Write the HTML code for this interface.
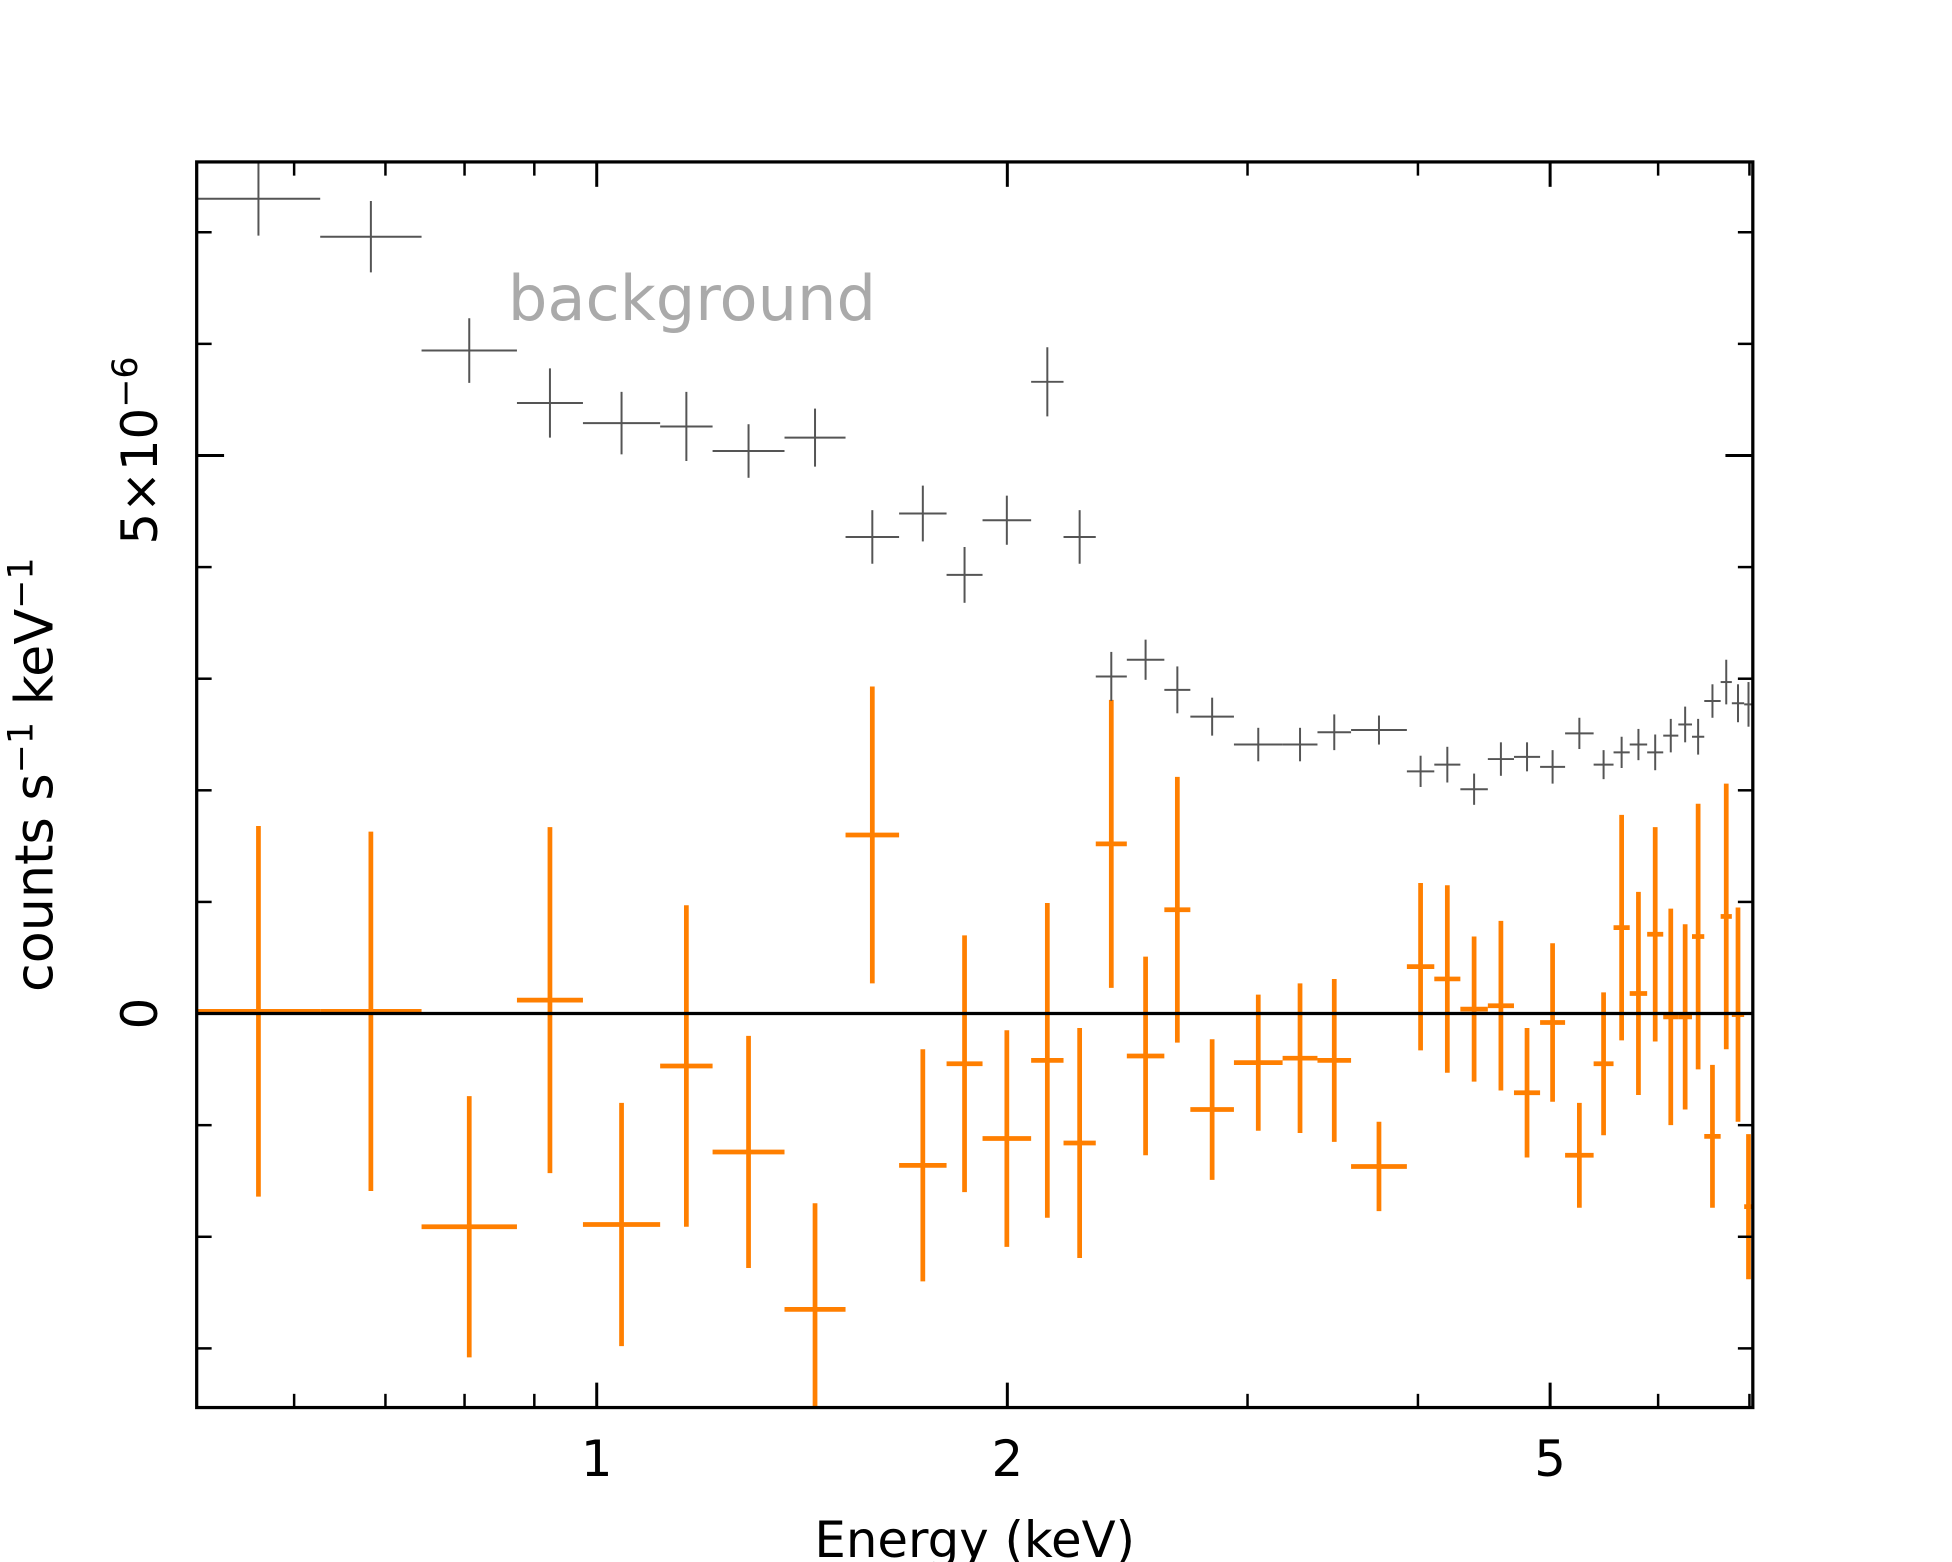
<!DOCTYPE html>
<html><head><meta charset="utf-8"><style>
html,body{margin:0;padding:0;background:#fff;}
svg{display:block;}
text{font-family:"DejaVu Sans","Liberation Sans",sans-serif;}
</style></head><body>
<svg id="chart" width="1952" height="1562" viewBox="0 0 1568 1254" preserveAspectRatio="none" xmlns="http://www.w3.org/2000/svg">
<g id="marks"></g>
<rect x="158" y="130" width="1250" height="1000" fill="none" stroke="#000" stroke-width="2.6"/>
<g id="ticks"></g>
<text x="408" y="257" font-size="50" fill="#aaaaaa">background</text>
<text transform="translate(42,622) rotate(-90)" text-anchor="middle" font-size="42" fill="#000">counts s<tspan dy="-16" font-size="28">−1</tspan><tspan dy="16"> keV</tspan><tspan dy="-16" font-size="28">−1</tspan></text>
<text x="783" y="1250" text-anchor="middle" font-size="40" fill="#000">Energy (keV)</text>
</svg>
<script>
const binEdges=[0.509,0.627,0.744,0.874,0.977,1.113,1.216,1.373,1.522,1.666,1.805,1.918,2.082,2.199,2.322,2.447,2.607,2.724,2.932,3.183,3.376,3.573,3.926,4.112,4.297,4.501,4.704,4.916,5.128,5.381,5.565,5.719,5.890,6.052,6.208,6.353,6.486,6.668,6.795,6.938,7.040];
const bgValues=[7.30,6.96,5.94,5.47,5.29,5.26,5.04,5.16,4.27,4.48,3.93,4.42,5.66,4.27,3.02,3.17,2.90,2.66,2.41,2.41,2.52,2.54,2.17,2.23,2.01,2.28,2.30,2.21,2.51,2.23,2.34,2.41,2.34,2.49,2.59,2.48,2.80,2.97,2.78,2.77];
const bgErrors=[0.33,0.32,0.29,0.31,0.28,0.31,0.24,0.26,0.24,0.25,0.25,0.22,0.31,0.24,0.22,0.18,0.21,0.17,0.15,0.15,0.16,0.13,0.14,0.16,0.14,0.15,0.13,0.15,0.14,0.13,0.14,0.14,0.16,0.15,0.16,0.16,0.15,0.20,0.17,0.20];
const resValues=[0.02,0.02,-1.91,0.12,-1.89,-0.47,-1.24,-2.65,1.60,-1.36,-0.45,-1.12,-0.42,-1.16,1.52,-0.38,0.93,-0.86,-0.44,-0.40,-0.42,-1.37,0.42,0.31,0.04,0.07,-0.71,-0.08,-1.27,-0.45,0.77,0.18,0.71,-0.03,-0.03,0.69,-1.10,0.87,-0.01,-1.73];
const resErrors=[1.66,1.61,1.17,1.55,1.09,1.44,1.04,0.95,1.33,1.04,1.15,0.97,1.41,1.03,1.29,0.89,1.19,0.63,0.61,0.67,0.73,0.40,0.75,0.84,0.65,0.76,0.58,0.71,0.47,0.64,1.01,0.91,0.96,0.97,0.83,1.19,0.64,1.19,0.96,0.65];
const xMajorTicks=[1,2,5];
const xMajorLabels=["1","2","5"];
const xMinorTicks=[0.6,0.7,0.8,0.9,3,4,6,7];
const yMajorTicks=[0,5];
const yMinorTicks=[-3,-2,-1,1,2,3,4,6,7];

const X0=158,X1=1408,Y0=130,Y1=1130;
const xMin=0.509,xMax=7.04,yMin=-3.53,yMax=7.63;
function xs(e){return X0+(Math.log10(e)-Math.log10(xMin))/(Math.log10(xMax)-Math.log10(xMin))*(X1-X0);}
function ys(v){return Y1-(v-yMin)/(yMax-yMin)*(Y1-Y0);}
function cl(y){return Math.max(Y0,Math.min(Y1,y));}
const NS="http://www.w3.org/2000/svg";
const marks=document.getElementById('marks');
const ticks=document.getElementById('ticks');
function line(p,x1,y1,x2,y2,c,w){const l=document.createElementNS(NS,'line');l.setAttribute('x1',x1);l.setAttribute('y1',y1);l.setAttribute('x2',x2);l.setAttribute('y2',y2);l.setAttribute('stroke',c);l.setAttribute('stroke-width',w);p.appendChild(l);return l;}
function errbar(i,vals,errs,color,w,name){
  const g=document.createElementNS(NS,'g');
  
  
  const xl=xs(binEdges[i]),xr=xs(binEdges[i+1]);
  const xc=xs(Math.sqrt(binEdges[i]*binEdges[i+1]));
  const y=ys(vals[i]);
  line(g,xl,y,xr,y,color,w);
  line(g,xc,cl(ys(vals[i]+errs[i])),xc,cl(ys(vals[i]-errs[i])),color,w);
  marks.appendChild(g);
}
for(let i=0;i<resValues.length;i++){errbar(i,resValues,resErrors,'#ff7f00',3.8,'residual-point');}
const zl=line(marks,X0,ys(0),X1,ys(0),'#000',2.6);


for(let i=0;i<bgValues.length;i++){errbar(i,bgValues,bgErrors,'#555555',1.6,'background-point');}
xMajorTicks.forEach((t,i)=>{const x=xs(t);line(ticks,x,Y1,x,Y1-20,'#000',2.4);line(ticks,x,Y0,x,Y0+20,'#000',2.4);
  const tx=document.createElementNS(NS,'text');
  
  
  tx.setAttribute('x',x);tx.setAttribute('y',1185);tx.setAttribute('text-anchor','middle');tx.setAttribute('font-size','40');tx.textContent=xMajorLabels[i];ticks.appendChild(tx);});
xMinorTicks.forEach(t=>{const x=xs(t);line(ticks,x,Y1,x,Y1-11,'#000',2);line(ticks,x,Y0,x,Y0+11,'#000',2);});
yMajorTicks.forEach(t=>{const y=ys(t);line(ticks,X0,y,X0+22,y,'#000',2.4);line(ticks,X1,y,X1-22,y,'#000',2.4);});
yMinorTicks.forEach(t=>{const y=ys(t);line(ticks,X0,y,X0+12,y,'#000',2);line(ticks,X1,y,X1-12,y,'#000',2);});
const t0=document.createElementNS(NS,'text');


t0.setAttribute('transform','translate(126,'+ys(0)+') rotate(-90)');t0.setAttribute('text-anchor','middle');t0.setAttribute('font-size','40');t0.textContent='0';ticks.appendChild(t0);
const t5=document.createElementNS(NS,'text');


t5.setAttribute('transform','translate(126,'+(ys(5)-4)+') rotate(-90)');t5.setAttribute('text-anchor','middle');t5.setAttribute('font-size','40');
t5.innerHTML='5×10<tspan dy="-16" font-size="28">−6</tspan>';ticks.appendChild(t5);
</script>
</body></html>
